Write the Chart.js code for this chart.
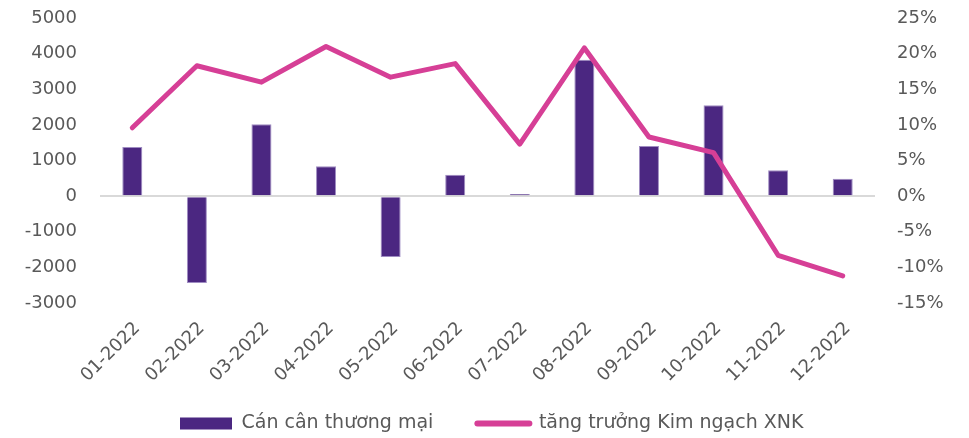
<!DOCTYPE html>
<html>
<head>
<meta charset="utf-8">
<script src="https://cdn.jsdelivr.net/npm/chart.js@4"></script>
<style>
    html, body { margin: 0; padding: 0; background: #ffffff; }
    #wrap { width: 969px; height: 438px; position: relative; }
</style>
</head>
<body>
<div id="wrap"><canvas id="tradeChart"></canvas></div>
<script>
// Data
const months = ["01-2022", "02-2022", "03-2022", "04-2022", "05-2022", "06-2022",
                "07-2022", "08-2022", "09-2022", "10-2022", "11-2022", "12-2022"];
const tradeBalance = [1380, -2440, 2020, 840, -1710, 600, 60, 3830, 1410, 2550, 725, 485];
const growthPct = [9.6, 18.3, 16.0, 21.0, 16.7, 18.6, 7.3, 20.8, 8.3, 6.1, -8.3, -11.2];
const seriesNames = ["Cán cân thương mại", "tăng trưởng Kim ngạch XNK"];
const leftTicks = [-3000, -2000, -1000, 0, 1000, 2000, 3000, 4000, 5000];
const rightTicks = [-15, -10, -5, 0, 5, 10, 15, 20, 25];

const barColor = "#4b2781";
const lineColor = "#d63f96";
const textColor = "#595959";
const fontFamily = "'DejaVu Sans', sans-serif";

document.addEventListener("DOMContentLoaded", function () {
    const ctx = document.getElementById("tradeChart").getContext("2d");

    // legend sits left of centre in the original; month labels need room below the axis
    const layoutTweak = {
        id: "layoutTweak",
        afterLayout(chart) {
            const lg = chart.legend;
            lg.left = 136;
            lg.right = 969;
            lg.width = lg.right - lg.left;
            lg.top += 5;
            lg.bottom += 5;

            const x = chart.scales.x;
            x.bottom = x.top + 95;
            x.height = 95;
        }
    };

    const noPad = (scale) => {
        scale.paddingTop = 0;
        scale.paddingBottom = 0;
    };

    new Chart(ctx, {
        data: {
            labels: months,
            datasets: [
                {
                    type: "line",
                    label: seriesNames[1],
                    data: growthPct,
                    yAxisID: "y1",
                    borderColor: lineColor,
                    backgroundColor: lineColor,
                    borderWidth: 5,
                    borderCapStyle: "round",
                    borderJoinStyle: "round",
                    pointRadius: 0,
                    tension: 0,
                    order: 0
                },
                {
                    type: "bar",
                    label: seriesNames[0],
                    data: tradeBalance,
                    yAxisID: "y",
                    backgroundColor: barColor,
                    borderColor: "#9f8cc2",
                    borderWidth: 1,
                    categoryPercentage: 1,
                    barPercentage: 0.31,
                    order: 1
                }
            ]
        },
        options: {
            responsive: true,
            maintainAspectRatio: false,
            animation: false,
            layout: { padding: { top: 18, bottom: 0, left: 0, right: 0 } },
            scales: {
                x: {
                    grid: { display: false, drawTicks: false },
                    border: { display: false },
                    ticks: {
                        color: textColor,
                        font: { family: fontFamily, size: 18 },
                        minRotation: 45,
                        maxRotation: 45,
                        padding: 15,
                        labelOffset: 5
                    },
                    afterFit: (scale) => { scale.height = 62; }
                },
                y: {
                    position: "left",
                    min: -3000,
                    max: 5000,
                    afterBuildTicks: (scale) => { scale.ticks = leftTicks.map(v => ({ value: v })); },
                    grid: {
                        drawTicks: false,
                        color: (c) => (c.tick && c.tick.value === 0 ? "#d9d9d9" : "rgba(0,0,0,0)"),
                        lineWidth: 2
                    },
                    border: { display: false },
                    ticks: {
                        color: textColor,
                        font: { family: fontFamily, size: 18 },
                        padding: 23,
                        callback: (value) => String(value)
                    },
                    afterFit: (scale) => { scale.width = 100; noPad(scale); }
                },
                y1: {
                    position: "right",
                    min: -15,
                    max: 25,
                    afterBuildTicks: (scale) => { scale.ticks = rightTicks.map(v => ({ value: v })); },
                    grid: { display: false, drawTicks: false },
                    border: { display: false },
                    ticks: {
                        color: textColor,
                        font: { family: fontFamily, size: 18 },
                        padding: 22,
                        callback: (value) => value + "%"
                    },
                    afterFit: (scale) => { scale.width = 94; noPad(scale); }
                }
            },
            plugins: {
                legend: {
                    position: "bottom",
                    align: "start",
                    reverse: true,
                    labels: {
                        color: textColor,
                        font: { family: fontFamily, size: 19 },
                        usePointStyle: true,
                        pointStyleWidth: 52,
                        boxHeight: 12,
                        padding: 44,
                        generateLabels(chart) {
                            const items = Chart.defaults.plugins.legend.labels.generateLabels(chart);
                            items.forEach(item => {
                                if (item.datasetIndex === 1) {
                                    item.pointStyle = "rect";
                                    item.fillStyle = barColor;
                                    item.strokeStyle = barColor;
                                    item.lineWidth = 0;
                                } else {
                                    item.pointStyle = "line";
                                    item.strokeStyle = lineColor;
                                    item.lineWidth = 6;
                                    item.lineCap = "round";
                                }
                            });
                            return items;
                        }
                    }
                },
                tooltip: { enabled: false }
            }
        },
        plugins: [layoutTweak]
    });
});
</script>
</body>
</html>
